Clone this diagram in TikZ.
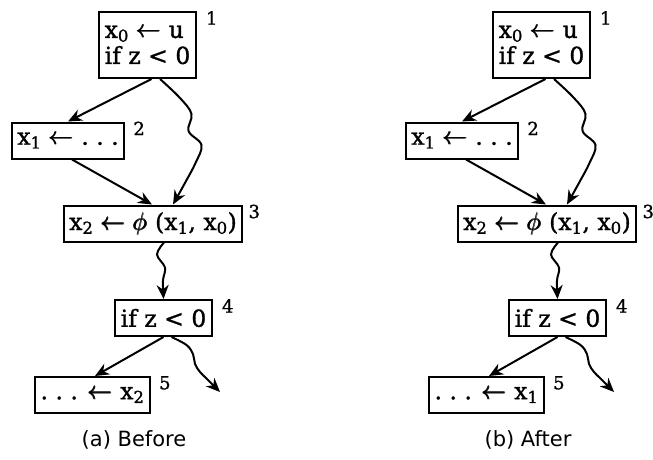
\documentclass[tikz,border=0pt]{standalone}
\usepackage{fontspec}
\usepackage{amsmath}
\setmainfont{DejaVu Serif}[FakeBold=1.2]
\newfontfamily\capfont{DejaVu Sans}
\usetikzlibrary{arrows.meta,calc}
\tikzset{
 blk/.style={draw, line width=2pt, inner xsep=5.5pt, inner ysep=3pt, minimum height=36pt, font=\fontsize{23.5}{26}\selectfont, align=left},
 num/.style={font=\fontsize{18}{18}\selectfont, anchor=north west, inner sep=0pt},
 conn/.style={line width=2pt, -{Stealth[length=14pt,width=12pt]}},
 captxt/.style={font=\capfont\fontsize{21}{24}\selectfont},
}
\newcommand\la{$\pmb{\leftarrow}$}
\newcommand\cfgdiag[4]{%
\begin{scope}[xshift=#2]
\node[blk, minimum height=66pt] (#1a) at (147.5,414) {x\textsubscript{0} \la{} u\\if z < 0};
\node[blk] (#1b) at (68,318.5) {x\textsubscript{1} \la{} .\ .\ .};
\node[blk] (#1c) at (153,235.5) {x\textsubscript{2} \la{} $\pmb{\phi}$ (x\textsubscript{1}, x\textsubscript{0})};
\node[blk] (#1d) at (163.5,141) {if z < 0};
\node[blk] (#1e) at (92.5,64) {.\ .\ . \la{} x\textsubscript{#3}};
\coordinate (#1f) at (220,67);
\node[num] (#1n1) at ($(#1a.north east)+(9,0)$) {1};
\node[num] (#1n2) at ($(#1b.north east)+(8,0)$) {2};
\node[num] (#1n3) at ($(#1c.north east)+(5,0)$) {3};
\node[num] (#1n4) at ($(#1d.north east)+(9,0)$) {4};
\node[num] (#1n5) at ($(#1e.north east)+(8,0)$) {5};
\node[captxt] (#1cap) at (134,19) {#4};
\draw[conn] ($(#1a.south)+(4,0)$) -- (#1b.north);
\draw[conn] plot[smooth, tension=0.6] coordinates {($(#1a.south)+(12.5,0)$) ($(#1a.south)+(32.5,-19)$) ($(#1a.south)+(44,-35)$) ($(#1a.south)+(41,-52)$) ($(#1a.south)+(54,-66)$) ($(#1a.south)+(48,-84)$) ($(#1a.south)+(38,-103)$) ($(#1c.north)+(20,0)$)};
\draw[conn] ($(#1b.south)+(4,0)$) -- ($(#1c.north)+(-1,0)$);
\draw[conn] plot[smooth, tension=0.6] coordinates {($(#1c.south)+(11,0)$) ($(#1c.south)+(4,-12)$) ($(#1c.south)+(12,-25)$) ($(#1c.south)+(10,-38)$) (#1d.north)};
\draw[conn] (#1d.south) -- ($(#1e.north)+(2.5,0)$);
\draw[conn] plot[smooth, tension=0.6] coordinates {($(#1d.south)+(8,0)$) ($(#1d.south)+(23,-8)$) ($(#1d.south)+(29.5,-17)$) ($(#1d.south)+(31.5,-27)$) ($(#1d.south)+(36.5,-35)$) ($(#1d.south)+(43.5,-42)$) (#1f)};
\end{scope}}
\begin{document}
\begin{tikzpicture}[x=1pt,y=1pt]
\useasboundingbox (0,0) rectangle (653,459);
\cfgdiag{l}{0pt}{2}{(a) Before}
\cfgdiag{r}{394pt}{1}{(b) After}
\end{tikzpicture}
\end{document}
